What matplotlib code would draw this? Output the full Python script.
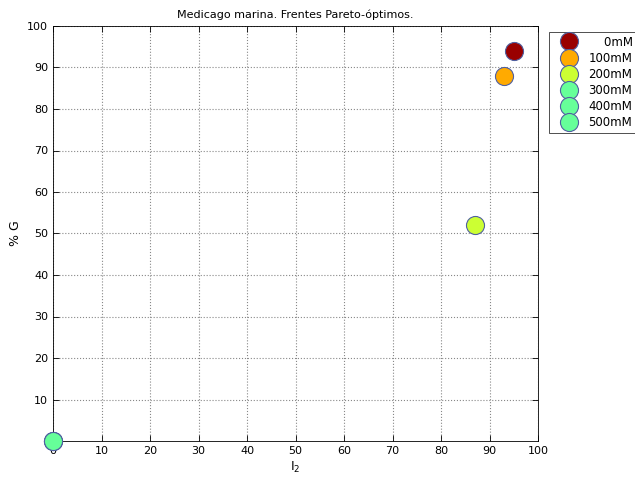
import matplotlib
matplotlib.use('Agg')
import matplotlib.pyplot as plt

# Data
labels = ['0mM', '100mM', '200mM', '300mM', '400mM', '500mM']
i2_vals = [95, 93, 87, 0, 0, 0]
g_vals = [94, 88, 52, 0, 0, 0]
colors = ['#990000', '#FFAA00', '#CCFF33', '#66FF99', '#66FF99', '#66FF99']

fig = plt.figure(figsize=(6.35, 4.82), dpi=100)
ax = fig.add_axes([53 / 635, 41 / 482, (538 - 53) / 635, (441 - 26) / 482])

handles = []
for lab, x, y, c in zip(labels, i2_vals, g_vals, colors):
    # right-align the legend labels with figure spaces
    pad = '\u2007' * (5 - len(lab))
    h, = ax.plot(x, y, 'o', color=c, markersize=13, markeredgecolor='#5060a0',
                 markeredgewidth=0.8, clip_on=False, zorder=3, label=pad + lab)
    handles.append(h)

ax.set_xlim(0, 100)
ax.set_ylim(0, 100)
ax.set_xticks(range(0, 101, 10))
ax.set_yticks(range(10, 101, 10))
ax.tick_params(direction='in', top=True, right=True, labelsize=8, length=4, width=0.6)
ax.grid(True, linestyle=':', color='#888888', linewidth=0.8)
for s in ax.spines.values():
    s.set_linewidth(0.6)

ax.set_title('Medicago marina. Frentes Pareto-óptimos.', fontsize=8)
ax.set_xlabel('I$_2$', fontsize=9, labelpad=3)
ax.set_ylabel('% G', fontsize=9)

leg = fig.legend(handles=handles, loc='upper left', bbox_to_anchor=(549 / 635, 1 - 32 / 482),
                 borderaxespad=0, fontsize=8.5, frameon=True, fancybox=False, edgecolor='black',
                 handletextpad=0.25, borderpad=0.3, labelspacing=0.27, handlelength=2.8)
leg.get_frame().set_linewidth(0.6)

fig.savefig('out.png', dpi=100)
